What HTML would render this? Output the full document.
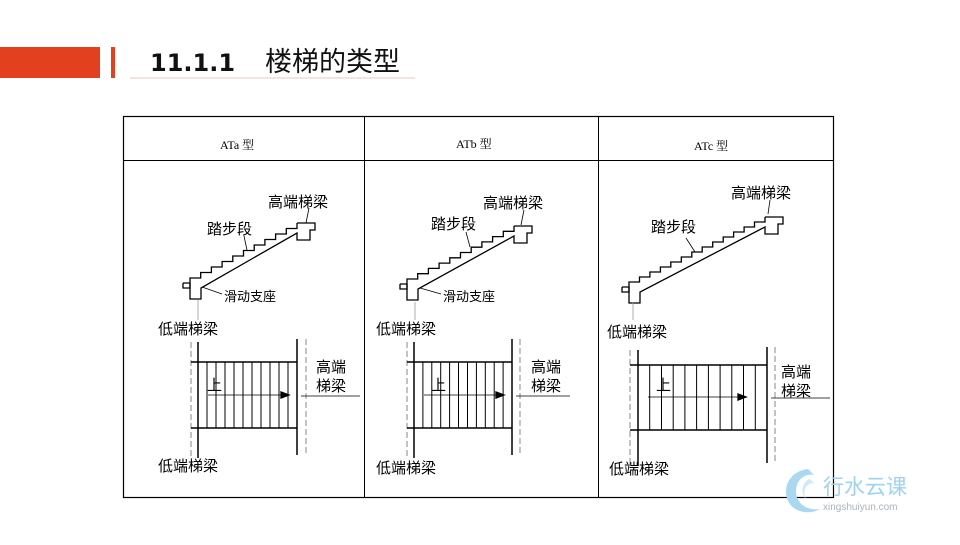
<!DOCTYPE html>
<html><head><meta charset="utf-8"><style>
html,body{margin:0;padding:0;background:#fff;}
svg text{font-family:"Liberation Sans","Noto Sans CJK SC",sans-serif;}
</style></head><body>
<svg id="s" width="960" height="540" viewBox="0 0 960 540" xmlns="http://www.w3.org/2000/svg">
<rect x="0" y="47" width="100" height="31" fill="#e2401f"/>
<rect x="111" y="47" width="4" height="31" fill="#e2401f"/>
<line x1="130" y1="78" x2="415" y2="78" stroke="#e8c8c0" stroke-width="1"/>
<text x="150" y="71" font-size="24" font-weight="bold" fill="#111" style="font-family:'DejaVu Sans','Noto Sans CJK SC',sans-serif">11.1.1</text>
<text x="265" y="71" font-size="27" fill="#111" style="font-family:'Noto Sans CJK SC',sans-serif">楼梯的类型</text>
<rect x="123.5" y="116.5" width="710" height="381" fill="none" stroke="#000" stroke-width="1.2"/>
<line x1="123" y1="160.5" x2="834" y2="160.5" stroke="#000"/>
<line x1="364.5" y1="116" x2="364.5" y2="497" stroke="#000"/>
<line x1="598.5" y1="116" x2="598.5" y2="497" stroke="#000"/>
<g font-size="12" fill="#000" style="font-family:'Liberation Serif','Noto Serif CJK SC',serif">
<text x="220" y="149" style="font-family:'Liberation Serif','Noto Serif CJK SC',serif">ATa 型</text><text x="456" y="148" style="font-family:'Liberation Serif','Noto Serif CJK SC',serif">ATb 型</text><text x="694" y="150" style="font-family:'Liberation Serif','Noto Serif CJK SC',serif">ATc 型</text>
</g>
<g id="g" fill="none" stroke="#000" stroke-width="1.3"></g>
<g font-size="15" fill="#000">
<text x="268" y="207">高端梯梁</text><text x="483" y="208">高端梯梁</text><text x="731" y="198">高端梯梁</text>
<text x="207" y="234">踏步段</text><text x="431" y="229">踏步段</text><text x="651" y="232">踏步段</text>
<text x="224" y="301" font-size="13">滑动支座</text><text x="443" y="301" font-size="13">滑动支座</text>
<text x="158" y="334">低端梯梁</text><text x="376" y="334">低端梯梁</text><text x="607" y="337">低端梯梁</text>
<text x="158" y="471">低端梯梁</text><text x="376" y="473">低端梯梁</text><text x="609" y="474">低端梯梁</text>
<text x="207" y="390">上</text><text x="431" y="390">上</text><text x="656" y="390">上</text>
<text x="316" y="372">高端</text><text x="316" y="391">梯梁</text>
<text x="531" y="372">高端</text><text x="531" y="391">梯梁</text>
<text x="781" y="377">高端</text><text x="781" y="396">梯梁</text>
</g>
<g transform="translate(780,465)">
<path d="M28 4 C10 6 2 22 8 36 C14 48 30 50 40 44 C26 46 16 38 16 26 C16 14 26 8 34 10 Z" fill="#a9d8f0"/>
<path d="M30 14 C22 16 20 28 26 34 C22 26 26 18 34 18 Z" fill="#cfeaf7"/>
<text x="43" y="29" font-size="21" fill="#9fd2ee">行水云课</text>
<text x="43" y="45" font-size="10" fill="#aab4bc">xingshuiyun.com</text>
</g>
</svg>
<script>
var g=document.getElementById('g'),h='';
function L(a,b,c,d,extra){h+='<line x1="'+a+'" y1="'+b+'" x2="'+c+'" y2="'+d+'" '+(extra||'')+'/>';}
function stair(bx,by,tx,ty,n){
 var sx=bx+7,sy=by-5;
 h+='<path d="M'+bx+' '+by+' L'+(bx+7)+' '+by+' L'+(bx+7)+' '+(by+16)+' L'+(bx+18)+' '+(by+16)+' L'+(bx+18)+' '+(by+5)+' L'+tx+' '+(ty+10)+' L'+tx+' '+(ty+17)+' L'+(tx+13)+' '+(ty+17)+' L'+(tx+13)+' '+(ty+7)+' L'+(tx+18)+' '+(ty+7)+' L'+(tx+18)+' '+ty+' L'+tx+' '+ty+'"/>';
 var dx=(tx-sx)/n,dy=(ty-sy)/n;
 var d='M'+bx+' '+by+' L'+bx+' '+(by+5)+' L'+sx+' '+(by+5)+' L'+sx+' '+sy;
 var x=sx,y=sy;
 for(var i=0;i<n;i++){x+=dx;d+=' L'+x.toFixed(1)+' '+y.toFixed(1);y+=dy;if(i<n-1)d+=' L'+x.toFixed(1)+' '+y.toFixed(1);}
 d+=' L'+tx+' '+ty;
 h+='<path d="'+d+'"/>';
}
stair(183,283,297,223,10);
stair(400,284,514,226,10);
stair(622,287,765,217,13);
var th='stroke-width="0.8"';
L(309,208,306,223,th);L(244,236,247,250,th);L(222,294,202,287,th);L(198,300,198,320,'stroke="#999" stroke-width="0.8"');
L(524,210,521,225,th);L(466,232,470,247,th);L(441,294,420,288,th);L(415,302,415,320,'stroke="#999" stroke-width="0.8"');
L(770,200,768,214,th);L(686,238,695,252,th);L(633,302,633,320,'stroke="#999" stroke-width="0.8"');
function plan(dl,sl,sr,dr,top,bot,y1,y2,ax,ay,hx){
 L(dl,y1,dl,y2,'stroke="#888" stroke-dasharray="6,3" stroke-width="1"');
 L(sl,y1,sl,y2,'stroke-width="1.5"');
 L(sr,y1-3,sr,y2-3,'stroke-width="1.5"');
 L(dr,y1-3,dr,y2-3,'stroke="#888" stroke-dasharray="6,3" stroke-width="1"');
 L(dl,top,sr,top,'stroke-width="1.5"');L(dl,bot,sr,bot,'stroke-width="1.5"');
 var w=(sr-sl)/11;for(var i=1;i<11;i++){var x=(sl+i*w).toFixed(1);L(x,top,x,bot,'stroke-width="1"');}
 L(sl+10,ay,ax,ay,'stroke-width="0.7"');
 h+='<path d="M'+ax+' '+(ay-3)+' L'+(ax+8)+' '+ay+' L'+ax+' '+(ay+3)+'Z" fill="#000"/>';
 L(sr+4,ay+1,hx,ay+1,'stroke-width="0.8"');
}
plan(191,198,297,306,362,428,342,458,281,395,360);
plan(407,414,512,520,362,428,342,458,496,395,570);
plan(630,638,767,775,365,430,350,466,738,397,830);
g.innerHTML=h;
</script>
</body></html>
